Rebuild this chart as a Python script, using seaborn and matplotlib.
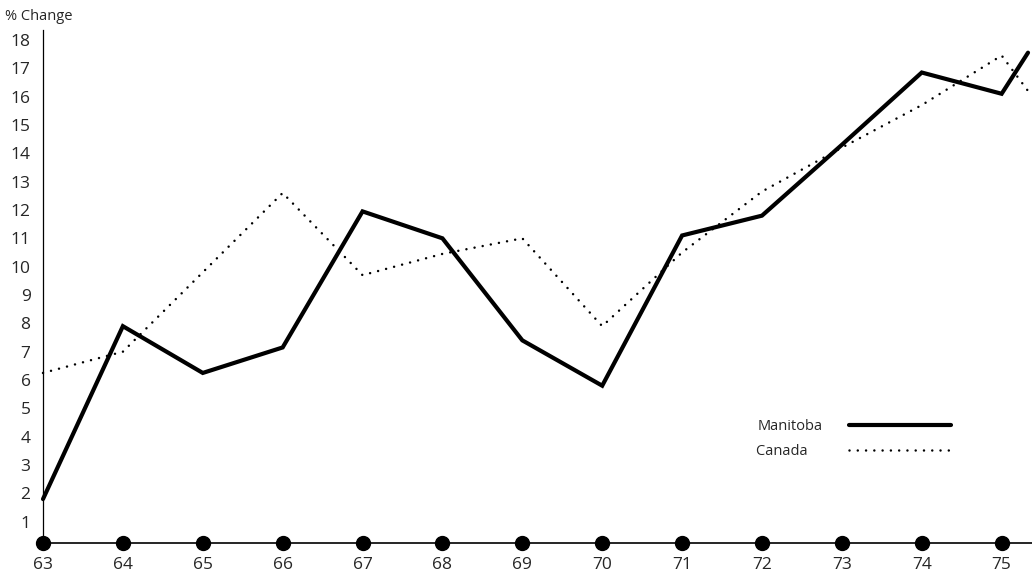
import matplotlib
matplotlib.use("Agg")
import matplotlib.pyplot as plt
import seaborn as sns
import pandas as pd

# ---- data ----
years = [63, 64, 65, 66, 67, 68, 69, 70, 71, 72, 73, 74, 75, 75.33]
manitoba = [1.8, 7.9, 6.25, 7.15, 11.95, 11.0, 7.4, 5.8, 11.1, 11.8, 14.3, 16.85, 16.1, 17.55]
canada = [6.25, 7.0, 9.8, 12.6, 9.7, 10.45, 11.0, 7.9, 10.5, 12.65, 14.2, 15.7, 17.45, 16.2]
tick_years = [63, 64, 65, 66, 67, 68, 69, 70, 71, 72, 73, 74, 75]
y_ticks = list(range(1, 19))
series_names = ["Manitoba", "Canada"]

sns.set_style("white")
plt.rcParams['font.family'] = ['Open Sans', 'DejaVu Sans']

df = pd.DataFrame({"year": years, "Manitoba": manitoba, "Canada": canada})

fig = plt.figure(figsize=(10.32, 5.79), dpi=100)
ax = fig.add_axes([43/1032, 36/579, (1032-43)/1032, (543-30)/579])

legend_fs = 10.5

# pad the shorter legend label with spaces so labels are left-aligned
renderer = fig.canvas.get_renderer()
def text_width(s):
    t = fig.text(0, 0, s, fontsize=legend_fs)
    w = t.get_window_extent(renderer).width
    t.remove()
    return w
w_long = max(text_width(n) for n in series_names)
w_space = text_width("a a") - text_width("aa")
labels = []
for n in series_names:
    k = int(round((w_long - text_width(n)) / w_space)) if w_space > 0 else 0
    labels.append(n + " " * k)

sns.lineplot(data=df, x="year", y="Manitoba", ax=ax, color="black", lw=3,
             label=labels[0], solid_joinstyle="miter", clip_on=False)
sns.lineplot(data=df, x="year", y="Canada", ax=ax, color="black", lw=1.8,
             linestyle=(0, (0.01, 3.3)), dash_capstyle="round",
             label=labels[1], clip_on=False)

# dots on the axis at each year
ax.plot(tick_years, [0]*len(tick_years), 'o', color="black", ms=10,
        transform=ax.get_xaxis_transform(), clip_on=False, zorder=5)

ax.set_xlim(63, 75.38)
ax.set_ylim(0.25, 18.35)
ax.set_xticks(tick_years)
ax.set_xticklabels([str(t) for t in tick_years])
ax.set_yticks(y_ticks)
ax.set_yticklabels([str(t) for t in y_ticks])
ax.tick_params(axis='both', length=0, labelsize=12.5)
ax.tick_params(axis='y', pad=9)
ax.tick_params(axis='x', pad=10)
ax.set_xlabel("")
ax.set_ylabel("")

for s in ["top", "right"]:
    ax.spines[s].set_visible(False)
ax.spines["left"].set_linewidth(0.9)
ax.spines["bottom"].set_linewidth(1.2)
ax.spines["left"].set_color("black")
ax.spines["bottom"].set_color("black")

leg = ax.legend(loc="upper left", bbox_to_anchor=((750-43)/989, 1-(413-30)/513),
                frameon=False, markerfirst=False, fontsize=legend_fs,
                handlelength=7.0, handletextpad=1.8, labelspacing=0.7,
                borderaxespad=0)

fig.text(5/1032, 1-17/579, "% Change", fontsize=10.5, va="center", ha="left")

fig.savefig("out.png", dpi=100, facecolor="white")
